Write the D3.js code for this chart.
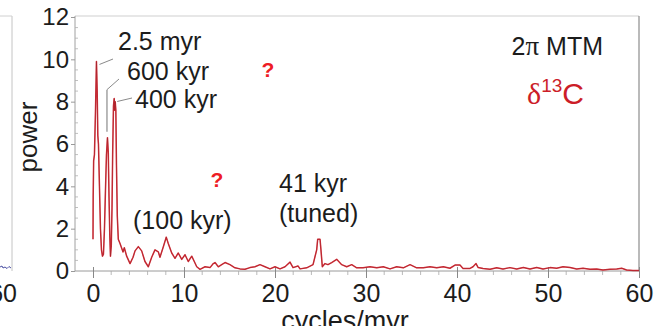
<!DOCTYPE html>
<html>
<head>
<meta charset="utf-8">
<script src="https://cdn.jsdelivr.net/npm/d3@7"></script>
<style>
  html, body { margin: 0; padding: 0; background: #fff; }
  svg { display: block; }
  text { font-family: "Liberation Sans", Arial, sans-serif; fill: #1c1c1c; }
</style>
</head>
<body>
<svg id="chart" width="662" height="326"></svg>
<script>
// Multitaper (2π MTM) power spectrum of the δ13C record
const freq = [
  0.00, 0.02, 0.07, 0.16, 0.27, 0.38, 0.46, 0.53, 0.60, 0.71, 0.82, 0.93,
  1.04, 1.15, 1.26, 1.37, 1.48, 1.59, 1.68, 1.76, 1.85, 1.92, 2.01, 2.09,
  2.16, 2.25, 2.33, 2.38, 2.44, 2.51, 2.58, 2.67, 2.78, 2.97, 3.30, 3.44,
  3.70, 4.07, 4.40, 4.62, 4.98, 5.35, 5.71, 6.08, 6.45, 6.81, 7.18, 7.36,
  7.73, 8.05, 8.27, 8.65, 9.01, 9.37, 9.75, 10.11, 10.47, 10.85, 11.13, 11.40,
  11.76, 12.31, 12.86, 13.22, 13.41, 13.77, 14.14, 14.51, 15.05, 15.60, 16.15, 16.70,
  17.25, 17.80, 18.35, 18.90, 19.45, 20.00, 20.55, 21.10, 21.65, 21.98, 22.53, 22.75,
  23.48, 24.18, 24.58, 24.69, 24.95, 25.05, 25.20, 25.49, 25.82, 26.23, 26.78, 27.33,
  27.88, 28.43, 28.98, 29.67, 30.44, 31.18, 31.90, 32.64, 33.37, 34.10, 34.84, 35.57,
  36.30, 37.03, 37.77, 38.50, 39.23, 39.78, 40.33, 40.66, 41.43, 41.76, 42.09, 42.31,
  42.86, 43.63, 44.36, 45.05, 45.82, 46.56, 47.29, 48.02, 48.76, 49.45, 50.22, 50.95,
  51.65, 52.42, 53.15, 53.85, 54.62, 55.35, 56.04, 56.81, 57.55, 58.10, 58.64, 59.34,
  60.00
];
const power = [
  1.50, 3.50, 5.20, 5.50, 7.50, 9.90, 8.50, 6.40, 6.00, 4.00, 2.00, 1.00,
  0.70, 0.80, 2.00, 3.80, 5.50, 6.30, 5.60, 3.50, 1.60, 0.70, 1.20, 3.00,
  5.50, 7.80, 8.15, 7.60, 8.00, 7.60, 5.00, 2.60, 1.50, 1.30, 0.90, 1.10,
  0.70, 0.35, 0.65, 0.95, 1.15, 0.95, 0.45, 0.20, 0.65, 1.00, 0.90, 0.65,
  1.15, 1.60, 1.30, 0.85, 0.60, 0.85, 0.55, 0.77, 0.45, 0.70, 0.45, 0.20,
  0.08, 0.20, 0.16, 0.35, 0.40, 0.20, 0.30, 0.40, 0.30, 0.15, 0.10, 0.08,
  0.16, 0.20, 0.30, 0.20, 0.10, 0.20, 0.10, 0.20, 0.42, 0.16, 0.24, 0.10,
  0.15, 0.30, 1.00, 1.50, 1.50, 1.00, 0.20, 0.35, 0.30, 0.40, 0.55, 0.30,
  0.20, 0.30, 0.15, 0.15, 0.20, 0.15, 0.20, 0.10, 0.20, 0.15, 0.30, 0.15,
  0.15, 0.20, 0.15, 0.20, 0.13, 0.28, 0.28, 0.12, 0.12, 0.20, 0.35, 0.17,
  0.12, 0.08, 0.15, 0.09, 0.16, 0.09, 0.17, 0.09, 0.17, 0.09, 0.16, 0.13,
  0.20, 0.17, 0.09, 0.13, 0.08, 0.09, 0.05, 0.08, 0.09, 0.13, 0.05, 0.02,
  0.02
];

const xMajorTicks = [0, 10, 20, 30, 40, 50, 60];
const yMajorTicks = [0, 2, 4, 6, 8, 10, 12];

// Peak annotations: label, peak frequency / power
const peakLabels = ["2.5 myr", "600 kyr", "400 kyr"];
const peakFreq   = [0.38, 1.59, 2.33];
const peakPower  = [9.90, 6.30, 8.15];

const svg = d3.select("#chart");

const x = d3.scaleLinear().domain([0, 60]).range([93, 639]);
const y = d3.scaleLinear().domain([0, 12]).range([271, 17]);

const frameLeft = 75, frameTop = 16;

// ---- neighbouring panel edge (left) ----
svg.append("line").attr("x1", 12).attr("x2", 12).attr("y1", frameTop).attr("y2", 271)
  .attr("stroke", "#c4c4c4").attr("stroke-width", 1);
svg.append("line").attr("x1", 0).attr("x2", 12).attr("y1", frameTop).attr("y2", frameTop)
  .attr("stroke", "#d0d0d0").attr("stroke-width", 1);
svg.append("path")
  .attr("d", "M0,267 L2,266 L3,268 L5,267 L7,268.5 L9,266.5 L11,268")
  .attr("fill", "none").attr("stroke", "#3a3f9a").attr("stroke-width", 0.9);
svg.append("text").attr("x", 17).attr("y", 302).attr("text-anchor", "end")
  .attr("font-size", 25).text("60");

// ---- frame ----
svg.append("line").attr("x1", frameLeft).attr("x2", x(60)).attr("y1", frameTop).attr("y2", frameTop)
  .attr("stroke", "#cfcfcf").attr("stroke-width", 1.2);
svg.append("line").attr("x1", x(60)).attr("x2", x(60)).attr("y1", frameTop).attr("y2", y(0))
  .attr("stroke", "#8c8c8c").attr("stroke-width", 1.2);
svg.append("line").attr("x1", frameLeft).attr("x2", frameLeft).attr("y1", frameTop).attr("y2", y(0))
  .attr("stroke", "#a0a0a0").attr("stroke-width", 1);
svg.append("line").attr("x1", frameLeft).attr("x2", x(60)).attr("y1", y(0)).attr("y2", y(0))
  .attr("stroke", "#9a9a9a").attr("stroke-width", 1);

// ---- y axis ----
const yAxis = d3.axisLeft(y).tickValues(yMajorTicks).tickSize(4).tickPadding(2);
const gy = svg.append("g").attr("transform", `translate(${frameLeft},0)`).call(yAxis);
gy.select(".domain").remove();
gy.selectAll(".tick line").attr("stroke", "#999");
gy.selectAll(".tick text").attr("font-size", 24).attr("fill", "#1c1c1c")
  .style("font-family", "Liberation Sans, Arial, sans-serif");

const yMinor = d3.range(0.5, 12, 0.5).filter(v => v % 2 !== 0);
svg.append("g").selectAll("line").data(yMinor).join("line")
  .attr("x1", frameLeft).attr("x2", frameLeft + 3)
  .attr("y1", d => y(d)).attr("y2", d => y(d))
  .attr("stroke", "#b0b0b0").attr("stroke-width", 0.8);

svg.append("text")
  .attr("transform", `translate(37,137) rotate(-90)`)
  .attr("text-anchor", "middle").attr("font-size", 26).text("power");

// ---- x axis ----
const xAxis = d3.axisBottom(x).tickValues(xMajorTicks).tickSize(7).tickPadding(6);
const gx = svg.append("g").attr("transform", `translate(0,${y(0)})`).call(xAxis);
gx.select(".domain").remove();
gx.selectAll(".tick line").attr("stroke", "#888").attr("y1", -4);
gx.selectAll(".tick text").attr("font-size", 25).attr("fill", "#1c1c1c")
  .style("font-family", "Liberation Sans, Arial, sans-serif");

const xMinor = d3.range(2, 60, 2).filter(v => v % 10 !== 0);
svg.append("g").selectAll("line").data(xMinor).join("line")
  .attr("x1", d => x(d)).attr("x2", d => x(d))
  .attr("y1", y(0)).attr("y2", y(0) + 4)
  .attr("stroke", "#a8a8a8").attr("stroke-width", 0.8);

svg.append("text").attr("x", 345).attr("y", 330)
  .attr("text-anchor", "middle").attr("font-size", 27).text("cycles/myr");

// ---- spectrum ----
const pts = freq.map((f, i) => [f, power[i]]);
const line = d3.line().x(d => x(d[0])).y(d => y(d[1]));
svg.append("path").datum(pts).attr("d", line)
  .attr("fill", "none").attr("stroke", "#d8323c").attr("stroke-width", 1.5)
  .attr("stroke-linejoin", "round");
svg.append("path").datum(pts).attr("d", line)
  .attr("fill", "none").attr("stroke", "#8e1c24").attr("stroke-width", 0.6)
  .attr("stroke-opacity", 0.7).attr("stroke-linejoin", "round");

// ---- peak annotations with leader lines ----
const labelPos = [[118, 50], [127, 80], [135, 108]];
const leaderEnd = [[113, 59], [119, 79], [132, 98]];
peakLabels.forEach((t, i) => {
  const px = x(peakFreq[i]), py = y(peakPower[i]);
  const start = i === 1 ? [px - 0.5, py - 48] : [px + 3, py + 3];
  if (i === 1) {
    // vertical drop to the 600 kyr peak
    svg.append("line").attr("x1", start[0]).attr("x2", start[0])
      .attr("y1", start[1]).attr("y2", py - 6)
      .attr("stroke", "#8a8a8a").attr("stroke-width", 1.2);
  }
  svg.append("line").attr("x1", start[0]).attr("y1", start[1])
    .attr("x2", leaderEnd[i][0]).attr("y2", leaderEnd[i][1])
    .attr("stroke", "#8a8a8a").attr("stroke-width", 1);
  svg.append("text").attr("x", labelPos[i][0]).attr("y", labelPos[i][1])
    .attr("font-size", 25).text(t);
});

svg.append("text").attr("x", 133).attr("y", 229).attr("font-size", 25).text("(100 kyr)");
svg.append("text").attr("x", 279).attr("y", 192).attr("font-size", 25).text("41 kyr");
svg.append("text").attr("x", 279).attr("y", 222).attr("font-size", 25).text("(tuned)");

// ---- method / proxy legend ----
const mtm = svg.append("text").attr("x", 603).attr("y", 55).attr("text-anchor", "end").attr("font-size", 25);
mtm.append("tspan").text("2");
mtm.append("tspan").style("font-family", "Liberation Serif, serif").attr("font-size", 27).text("π");
mtm.append("tspan").text(" MTM");

const d13 = svg.append("text").attr("x", 527).attr("y", 104).attr("font-size", 30)
  .style("fill", "#cc1d28");
d13.append("tspan").style("font-family", "Liberation Serif, serif").style("fill", "#cc1d28").text("δ");
d13.append("tspan").attr("font-size", 19).attr("dy", -12).style("fill", "#cc1d28").text("13");
d13.append("tspan").attr("dy", 12).style("fill", "#cc1d28").text("C");

// ---- query marks ----
[[268, 77], [217, 187]].forEach(p => {
  svg.append("text").attr("x", p[0]).attr("y", p[1]).attr("text-anchor", "middle")
    .attr("font-size", 21).attr("font-weight", "bold").style("fill", "#ee1c25").text("?");
});
</script>
</body>
</html>
